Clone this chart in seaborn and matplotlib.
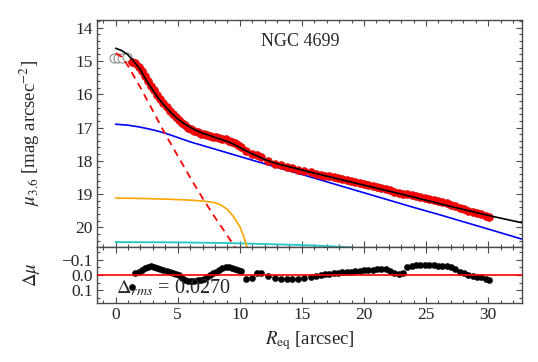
import matplotlib
matplotlib.use('Agg')
import matplotlib.pyplot as plt
import pandas as pd
import seaborn as sns
from matplotlib.ticker import MultipleLocator

sns.set_style('ticks')
plt.rcParams['font.family'] = ['Liberation Serif', 'DejaVu Serif']
plt.rcParams['mathtext.fontset'] = 'stix'

# ---- data ----
# excluded inner points (open circles)
r_excl = [-0.1, 0.2, 0.53, 0.88]
mu_excl = [14.92, 14.92, 14.90, 14.88]

# observed profile + residuals (data - model)
r_obs = [1.3, 1.6, 1.85, 2.1, 2.35, 2.6, 2.85, 3.1, 3.35, 3.6,
         3.85, 4.1, 4.35, 4.6, 4.85, 5.1, 5.35, 5.6, 5.85, 6.1,
         6.35, 6.6, 6.85, 7.1, 7.35, 7.6, 7.85, 8.1, 8.35, 8.6,
         8.85, 9.1, 9.35, 9.6, 9.85, 10.1,
         10.5, 10.95, 11.4, 11.7, 12.3, 12.8, 13.3, 13.8, 14.2, 14.7,
         15.2, 15.7, 16.1, 16.5,
         16.85, 17.2, 17.55, 17.9, 18.25, 18.6, 18.95, 19.3, 19.65, 20.0,
         20.35, 20.7, 21.05, 21.4, 21.75, 22.1, 22.45, 22.8, 23.15, 23.5,
         23.85, 24.2, 24.55, 24.9, 25.25, 25.6, 25.95, 26.3, 26.65, 27.0,
         27.35, 27.7, 28.05, 28.4, 28.75, 29.1, 29.45, 29.8, 30.05]
mu_obs = [15.03, 15.07, 15.18, 15.31, 15.46, 15.60, 15.74, 15.88, 16.02, 16.15,
          16.27, 16.38, 16.49, 16.59, 16.68, 16.77, 16.86, 16.93, 17.00, 17.05,
          17.10, 17.14, 17.18, 17.20, 17.22, 17.24, 17.27, 17.29, 17.31, 17.33,
          17.35, 17.39, 17.43, 17.48, 17.54, 17.60,
          17.72, 17.80, 17.83, 17.90, 18.01, 18.09, 18.14, 18.19, 18.23, 18.27,
          18.31, 18.35, 18.39, 18.42,
          18.45, 18.47, 18.50, 18.53, 18.55, 18.58, 18.62, 18.65, 18.67, 18.70,
          18.73, 18.76, 18.78, 18.82, 18.85, 18.89, 18.94, 18.98, 18.99, 18.99,
          19.02, 19.05, 19.08, 19.11, 19.15, 19.18, 19.22, 19.25, 19.28, 19.32,
          19.36, 19.41, 19.45, 19.50, 19.53, 19.57, 19.61, 19.65, 19.68]
resid = [0.08, -0.01, -0.02, -0.03, -0.045, -0.055, -0.056, -0.053, -0.045, -0.038,
         -0.033, -0.028, -0.022, -0.016, -0.009, 0.0, 0.02, 0.03, 0.037, 0.039,
         0.038, 0.035, 0.03, 0.023, 0.012, 0.0, -0.012, -0.022, -0.033, -0.043,
         -0.05, -0.053, -0.048, -0.04, -0.03, -0.025,
         0.023, 0.02, -0.016, -0.01, 0.008, 0.017, 0.023, 0.027, 0.028, 0.024,
         0.02, 0.014, 0.008, 0.0,
         -0.005, -0.009, -0.012, -0.015, -0.017, -0.019, -0.022, -0.024, -0.027, -0.03,
         -0.033, -0.035, -0.038, -0.04, -0.036, -0.028, -0.015, -0.005, -0.016, -0.05,
         -0.06, -0.064, -0.065, -0.065, -0.065, -0.064, -0.062, -0.061, -0.06, -0.055,
         -0.038, -0.022, -0.012, -0.002, 0.004, 0.01, 0.016, 0.026, 0.036]

# total model
r_tot = [0, 0.5, 1.0, 1.5, 2.0, 2.5, 3.0, 3.5, 4.0, 4.5, 5.0, 5.5, 6.0, 6.5, 7.0,
         7.5, 8.0, 8.5, 9.0, 9.5, 10.0, 10.5, 11.0, 11.5, 12.0, 13.0, 14.0, 16.0,
         18.0, 20.0, 22.0, 24.0, 26.0, 28.0, 30.0, 32.7]
mu_tot = [14.62, 14.69, 14.82, 15.03, 15.27, 15.60, 15.88, 16.15, 16.37, 16.57,
          16.74, 16.88, 16.99, 17.09, 17.17, 17.23, 17.30, 17.36, 17.42, 17.50,
          17.60, 17.70, 17.79, 17.87, 17.96, 18.09, 18.18, 18.37, 18.55, 18.73,
          18.91, 19.09, 19.28, 19.46, 19.64, 19.86]

# bulge (dashed)
r_bulge = [0, 0.5, 1, 2, 3, 4, 5, 6, 7, 8, 9, 9.8]
mu_bulge = [14.77, 14.88, 15.15, 15.80, 16.50, 17.20, 17.85, 18.50, 19.12, 19.70, 20.25, 20.70]

# disc
r_disc = [0, 1, 2, 3, 4, 5, 6, 7, 8, 9, 10, 12, 14, 16, 18, 20, 22, 24, 26, 28, 30, 32.7]
mu_disc = [16.90, 16.93, 16.99, 17.07, 17.17, 17.30, 17.43, 17.54, 17.65, 17.76, 17.87,
           18.09, 18.30, 18.52, 18.74, 18.96, 19.18, 19.40, 19.61, 19.83, 20.05, 20.35]

# bar
r_bar = [0, 2, 4, 6, 7, 7.5, 8.0, 8.5, 9.0, 9.5, 10.0, 10.3, 10.6]
mu_bar = [19.12, 19.13, 19.15, 19.18, 19.21, 19.23, 19.26, 19.33, 19.46, 19.68, 19.98, 20.25, 20.62]

# faint component
r_faint = [0, 5, 9, 12, 15, 17, 19]
mu_faint = [20.44, 20.45, 20.47, 20.50, 20.53, 20.56, 20.60]

gray = '#4a4a4a'

fig = plt.figure(figsize=(5.38, 3.62), dpi=100)
ax = fig.add_axes([0.1803, 0.3185, 0.7894, 0.6263])
axr = fig.add_axes([0.1803, 0.1622, 0.7894, 0.1563])

# top panel
sns.scatterplot(x=r_excl, y=mu_excl, ax=ax, s=42, facecolor='white',
                edgecolor='#8a8a8a', linewidth=0.8, zorder=3)
sns.scatterplot(x=r_obs, y=mu_obs, ax=ax, s=32, color='red',
                edgecolor='#d00000', linewidth=0.4, zorder=3)
sns.lineplot(x=r_faint, y=mu_faint, ax=ax, color='#22c8c8', lw=1.3, sort=False, zorder=2)
sns.lineplot(x=r_bar, y=mu_bar, ax=ax, color='orange', lw=1.2, sort=False, zorder=2)
sns.lineplot(x=r_disc, y=mu_disc, ax=ax, color='blue', lw=1.2, sort=False, zorder=2)
sns.lineplot(x=r_bulge, y=mu_bulge, ax=ax, color='red', lw=1.3, sort=False,
             linestyle=(0, (4, 3)), zorder=4)
sns.lineplot(x=r_tot, y=mu_tot, ax=ax, color='black', lw=1.2, sort=False, zorder=5)

ax.set_xlim(-1.5, 32.7)
ax.set_ylim(20.58, 13.77)
ax.yaxis.set_major_locator(MultipleLocator(1))
ax.yaxis.set_minor_locator(MultipleLocator(0.2))
ax.text(0.478, 0.903, 'NGC 4699', transform=ax.transAxes, ha='center', va='center', fontsize=13)
ax.set_ylabel(r'$\mu_{3.6}$ [mag arcsec$^{-2}$]', fontsize=13.5)
ax.yaxis.set_label_coords(-0.13, 0.5)
ax.set_xlabel('')
ax.tick_params(labelbottom=False)

# residual panel
sns.scatterplot(x=r_obs, y=resid, ax=axr, s=20, color='black', edgecolor='black',
                linewidth=0.3, zorder=2)
axr.axhline(0, color='red', lw=1.2, zorder=3)
axr.set_xlim(-1.5, 32.7)
axr.set_ylim(0.185, -0.185)
axr.yaxis.set_major_locator(MultipleLocator(0.1))
axr.yaxis.set_minor_locator(MultipleLocator(0.05))
axr.set_ylabel(r'$\Delta\mu$', fontsize=13.5)
axr.yaxis.set_label_coords(-0.13, 0.5)
axr.set_xlabel(r'$R_{\rm eq}$ [arcsec]', fontsize=13.5)
axr.xaxis.set_label_coords(0.5, -0.45)
axr.text(0.045, 0.27, r'$\Delta_{rms}$ = 0.0270', transform=axr.transAxes,
         ha='left', va='center', fontsize=14.5)

for a in (ax, axr):
    a.xaxis.set_major_locator(MultipleLocator(5))
    a.xaxis.set_minor_locator(MultipleLocator(1))
    a.tick_params(which='both', direction='in', top=True, right=True, color=gray,
                  labelsize=12.5, width=0.8, pad=3)
    a.tick_params(which='major', length=4.5)
    a.tick_params(which='minor', length=2.5)
    for sp in a.spines.values():
        sp.set_color(gray)
        sp.set_linewidth(1.0)

fig.savefig('out.png', dpi=100)
